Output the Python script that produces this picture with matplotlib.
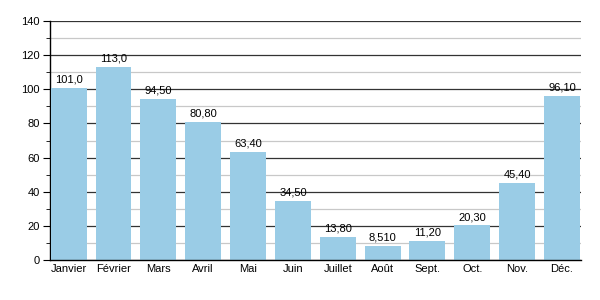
import matplotlib
matplotlib.use("Agg")
import matplotlib.pyplot as plt
import numpy as np
from matplotlib.ticker import MultipleLocator

plt.rcParams["font.family"] = ["Liberation Sans", "DejaVu Sans"]

months = ["Janvier", "Février", "Mars", "Avril", "Mai", "Juin",
          "Juillet", "Août", "Sept.", "Oct.", "Nov.", "Déc."]
values = [101.0, 113.0, 94.5, 80.8, 63.4, 34.5, 13.8, 8.51, 11.2, 20.3, 45.4, 96.1]
value_labels = ["101,0", "113,0", "94,50", "80,80", "63,40", "34,50",
                "13,80", "8,510", "11,20", "20,30", "45,40", "96,10"]

fig = plt.figure(figsize=(6, 3), dpi=100)
ax = fig.add_axes([0.083, 0.133, 0.885, 0.797])

x = np.arange(len(months))
ax.bar(x, values, width=0.8, color="#9ACCE6", zorder=3)
for xi, v, lab in zip(x, values, value_labels):
    ax.text(xi, v + 2, lab, ha="center", va="bottom", fontsize=8, zorder=4)

ax.set_xlim(-0.42, 11.42)
ax.set_ylim(0, 140)
ax.yaxis.set_major_locator(MultipleLocator(20))
ax.yaxis.set_minor_locator(MultipleLocator(10))
ax.yaxis.grid(True, which="major", color="#333333", linewidth=0.9, zorder=1)
ax.yaxis.grid(True, which="minor", color="#C8C8C8", linewidth=0.9, zorder=1)
ax.set_xticks(x)
ax.set_xticklabels(months)
ax.tick_params(axis="x", length=0, labelsize=8, pad=3)
ax.tick_params(axis="y", which="major", length=5, labelsize=8, pad=2)
ax.tick_params(axis="y", which="minor", length=3)
for s in ["top", "right"]:
    ax.spines[s].set_visible(False)
ax.spines["left"].set_linewidth(1.0)
ax.spines["bottom"].set_linewidth(1.0)
ax.spines["bottom"].set_zorder(5)

fig.savefig("out.png", dpi=100)
